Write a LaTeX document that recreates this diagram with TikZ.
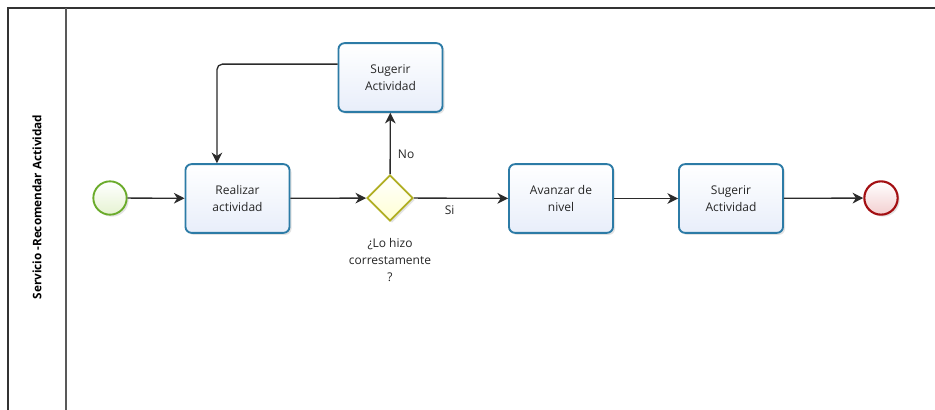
\documentclass[tikz,border=0pt]{standalone}
\usepackage{fontspec}
\setmainfont{Open Sans}
\usetikzlibrary{arrows.meta,shapes.geometric,shadows}

\definecolor{taskborder}{HTML}{2C7BA6}
\definecolor{taskfill}{HTML}{E8EEFA}
\definecolor{startborder}{HTML}{6AAB2A}
\definecolor{startfill}{HTML}{E6F3D2}
\definecolor{endborder}{HTML}{A30F12}
\definecolor{endfill}{HTML}{F3CFD0}
\definecolor{gwborder}{HTML}{B0AE22}
\definecolor{gwfill}{HTML}{FFFFD2}
\definecolor{lineclr}{HTML}{2B2B2B}

\tikzset{
  softshadow/.style={drop shadow={opacity=0.18, shadow xshift=1.5pt, shadow yshift=-1.5pt, fill=black!60}},
  task/.style={draw=taskborder, line width=1.4pt, rounded corners=4.5pt,
    minimum width=78pt, minimum height=51.5pt, top color=white, bottom color=taskfill,
    align=center, font=\fontsize{9}{12.3}\selectfont, text=black!85, softshadow},
  startev/.style={circle, draw=startborder, line width=1.4pt, minimum size=25pt,
    inner sep=0pt, top color=white, bottom color=startfill, softshadow},
  endev/.style={circle, draw=endborder, line width=1.6pt, minimum size=25pt,
    inner sep=0pt, top color=white, bottom color=endfill, softshadow},
  gateway/.style={diamond, draw=gwborder, line width=1.4pt, minimum width=34.5pt,
    minimum height=34.5pt, inner sep=0pt, top color=white, bottom color=gwfill, softshadow},
  flow/.style={draw=lineclr, line width=1pt, -{Stealth[length=8pt,width=8pt,inset=2.5pt]}},
  lbl/.style={font=\fontsize{9}{12.8}\selectfont, text=black!85, align=center},
  lane/.style={draw=black!80, line width=1.1pt}
}

\begin{document}
\begin{tikzpicture}[x=0.75pt,y=-0.75pt]
  \useasboundingbox (0,0) rectangle (935,410);
  \fill[white] (0,0) rectangle (935,410);

  % pool and lane header
  \draw[lane] (8,410) -- (8,8) -- (935,8);
  \draw[lane, draw=black!65] (66,8) -- (66,410);
  \node[rotate=90, font=\bfseries\fontsize{8.8}{10}\selectfont] (lanename) at (37,207)
    {Servicio -Recomendar Actividad};

  % flow elements
  \node[startev] (start) at (110,198) {};
  \node[task] (realizar) at (237.5,198.5) {Realizar\\actividad};
  \node[gateway] (gw) at (390,198) {};
  \node[task] (sugerirA) at (390.5,77.5) {Sugerir\\Actividad};
  \node[task] (avanzar) at (561,198.5) {Avanzar de\\nivel};
  \node[task] (sugerirB) at (731,198.5) {Sugerir\\Actividad};
  \node[endev] (finish) at (881,198) {};
  \node[lbl] (gwlabel) at (390,260) {¿Lo hizo\\correstamente\\?};

  % sequence flows
  \draw[flow] (start) -- (realizar);
  \draw[flow] (realizar) -- (gw);
  \draw[flow] (gw) -- node[lbl, pos=0.38, below, yshift=-2pt] (silbl) {Si} (avanzar);
  \draw[flow] (gw) -- node[lbl, right, pos=0.32, xshift=2pt] (nolbl) {No} (sugerirA);
  \draw[flow, rounded corners=4pt] ([yshift=10pt]sugerirA.west) -| ([xshift=-15.4pt]realizar.north);
  \draw[flow] (avanzar) -- (sugerirB);
  \draw[flow] (sugerirB) -- (finish);
\end{tikzpicture}
\end{document}
